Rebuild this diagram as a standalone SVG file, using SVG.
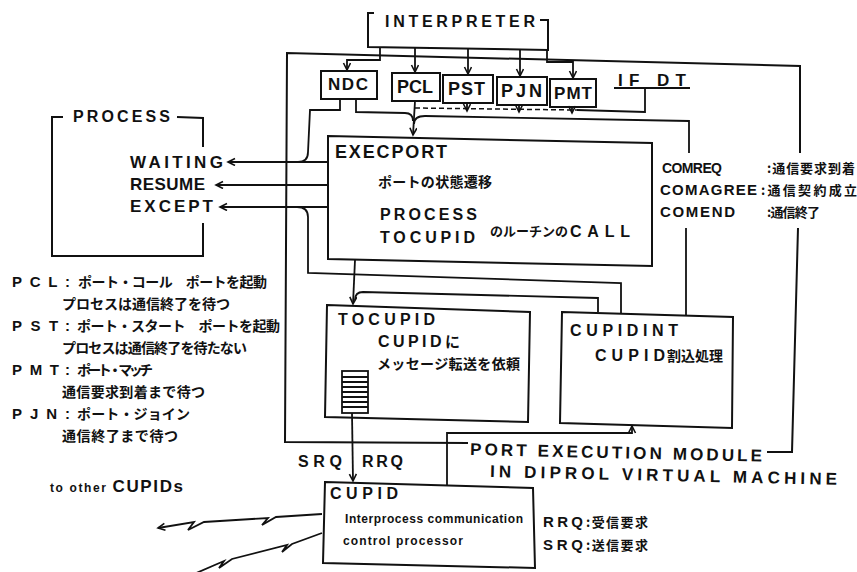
<svg xmlns="http://www.w3.org/2000/svg" width="857" height="572" viewBox="0 0 857 572">
<defs>
<marker id="ah" markerWidth="10" markerHeight="10" refX="8" refY="4" orient="auto" markerUnits="userSpaceOnUse">
<path d="M1,0.5 L8,4 L1,7.5" fill="none" stroke="#111" stroke-width="1.6"/>
</marker>
</defs>
<style>
.b{fill:none;stroke:#111;stroke-width:2}
.l{fill:none;stroke:#111;stroke-width:1.8}
.d{fill:none;stroke:#111;stroke-width:1.5;stroke-dasharray:5 3}
.t{font-family:"Liberation Sans","Noto Sans CJK JP",sans-serif;font-weight:bold;fill:#111}
.j{font-family:"Noto Sans CJK JP","Liberation Sans",sans-serif;font-weight:bold;fill:#111}
</style>
<rect width="857" height="572" fill="#fff"/>

<g id="pem">
<polyline class="b" points="468,443 285,442 287,53 800,66 800,153"/>
<polyline class="b" points="798,228 792,452 767,452"/>
<text class="t" x="470" y="455" font-size="17" textLength="292" transform="rotate(1.3 470 455)">PORT EXECUTION MODULE</text>
<text class="t" x="490" y="477" font-size="17" textLength="347" transform="rotate(1.3 490 477)">IN DIPROL VIRTUAL MACHINE</text>
</g>

<g id="interpreter">
<polyline class="b" points="374,13 368,13 368,47 548,50 548,20 540,20"/>
<text class="t" x="385" y="27" font-size="16" textLength="150">INTERPRETER</text>
</g>

<g id="ndc"><rect class="b" x="321" y="71" width="56" height="28"/><text class="t" x="328" y="90" font-size="17" textLength="40">NDC</text></g>
<g id="pcl"><rect class="b" x="392" y="73" width="48" height="28"/><text class="t" x="397" y="93" font-size="18" textLength="36">PCL</text></g>
<g id="pst"><rect class="b" x="443" y="75" width="50" height="28"/><text class="t" x="448" y="95" font-size="18" textLength="37">PST</text></g>
<g id="pjn"><rect class="b" x="497" y="77" width="50" height="28"/><text class="t" x="501" y="97" font-size="18" textLength="41">PJN</text></g>
<g id="pmt"><rect class="b" x="550" y="79" width="46" height="28"/><text class="t" x="554" y="99" font-size="17" textLength="38">PMT</text></g>

<g id="ifdt"><text class="t" x="618" y="86" font-size="17" textLength="68">IF DT</text><line class="l" x1="614" y1="88" x2="690" y2="88"/></g>

<g id="process">
<polyline class="b" points="63,117 52,117 52,256 203,256 203,223"/>
<polyline class="b" points="177,117 203,118 203,147"/>
<text class="t" x="73" y="122" font-size="16" textLength="97">PROCESS</text>
<text class="t" x="130" y="168" font-size="17" textLength="93">WAITING</text>
<text class="t" x="130" y="190" font-size="17" textLength="75">RESUME</text>
<text class="t" x="130" y="212" font-size="17" textLength="83">EXCEPT</text>
</g>

<g id="execport">
<polygon class="b" points="328,136 652,143 652,266 328,259"/>
<text class="t" x="335" y="158" font-size="18" textLength="112">EXECPORT</text>
<text class="j" x="378" y="187" font-size="14" textLength="114">ポートの状態遷移</text>
<text class="t" x="380" y="220" font-size="16" textLength="97">PROCESS</text>
<text class="t" x="380" y="243" font-size="16" textLength="95">TOCUPID</text>
<text class="j" x="490" y="236" font-size="13" textLength="78">のルーチンの</text>
<text class="t" x="570" y="237" font-size="16" textLength="60">CALL</text>
</g>

<g id="comlabels">
<text class="t" x="662" y="173" font-size="14" textLength="60">COMREQ</text>
<text class="j" x="767" y="173" font-size="13" textLength="88">:通信要求到着</text>
<text class="t" x="660" y="195" font-size="15" textLength="97">COMAGREE</text>
<text class="j" x="761" y="195" font-size="13" textLength="96">:通信契約成立</text>
<text class="t" x="660" y="217" font-size="15" textLength="75">COMEND</text>
<text class="j" x="767" y="217" font-size="13" textLength="53">:通信終了</text>
</g>

<g id="tocupid">
<polygon class="b" points="327,305 530,312 528,422 325,417"/>
<text class="t" x="338" y="325" font-size="16" textLength="97">TOCUPID</text>
<text class="t" x="378" y="347" font-size="16" textLength="82">CUPID<tspan font-size="15" font-family="Noto Sans CJK JP, sans-serif">に</tspan></text>
<text class="j" x="377" y="369" font-size="14" textLength="143">メッセージ転送を依頼</text>
<g class="l" stroke-width="1.5">
<rect x="342" y="371" width="26" height="42"/>
<path d="M342,377H368M342,382H368M342,387H368M342,392H368M342,397H368M342,402H368M342,407H368"/>
</g>
</g>

<g id="cupidint">
<polygon class="b" points="562,312 733,317 732,428 560,423"/>
<text class="t" x="570" y="336" font-size="16" textLength="108">CUPIDINT</text>
<text class="t" x="595" y="361" font-size="16" textLength="70">CUPID</text>
<text class="j" x="667" y="361" font-size="14" textLength="56">割込処理</text>
</g>

<g id="cupid">
<polygon class="b" points="325,482 533,488 535,568 323,563"/>
<text class="t" x="330" y="499" font-size="16" textLength="68">CUPID</text>
<text class="t" x="345" y="523" font-size="12" textLength="178">Interprocess communication</text>
<text class="t" x="343" y="545" font-size="12" textLength="120">control processor</text>
</g>

<g id="legend">
<text class="t" x="12" y="287" font-size="15" textLength="58">PCL:</text>
<text class="j" x="78" y="287" font-size="14" textLength="189">ポート・コール　ポートを起動</text>
<text class="j" x="62" y="309" font-size="14" textLength="168">プロセスは通信終了を待つ</text>
<text class="t" x="12" y="331" font-size="15" textLength="58">PST:</text>
<text class="j" x="77" y="331" font-size="14" textLength="203">ポート・スタート　ポートを起動</text>
<text class="j" x="62" y="353" font-size="14" textLength="185">プロセスは通信終了を待たない</text>
<text class="t" x="12" y="375" font-size="15" textLength="58">PMT:</text>
<text class="j" x="77" y="375" font-size="14" textLength="76">ポート・マッチ</text>
<text class="j" x="62" y="397" font-size="14" textLength="143">通信要求到着まで待つ</text>
<text class="t" x="12" y="419" font-size="15" textLength="58">PJN:</text>
<text class="j" x="77" y="419" font-size="14" textLength="113">ポート・ジョイン</text>
<text class="j" x="62" y="441" font-size="14" textLength="116">通信終了まで待つ</text>
<text class="t" x="50" y="492" textLength="133"><tspan font-size="12">to other </tspan><tspan font-size="17">CUPIDs</tspan></text>
<text class="t" x="298" y="467" font-size="16" textLength="44">SRQ</text>
<text class="t" x="362" y="467" font-size="16" textLength="41">RRQ</text>
<text class="t" x="543" y="527" font-size="15" textLength="40">RRQ</text>
<text class="j" x="586" y="527" font-size="13" textLength="62">:受信要求</text>
<text class="t" x="543" y="550" font-size="15" textLength="40">SRQ</text>
<text class="j" x="586" y="550" font-size="13" textLength="62">:送信要求</text>
</g>

<g id="connectors">
<path class="l" marker-end="url(#ah)" d="M380,48V60H347V70"/>
<path class="l" marker-end="url(#ah)" d="M415,48V72"/>
<path class="l" marker-end="url(#ah)" d="M468,49V74"/>
<path class="l" marker-end="url(#ah)" d="M520,50V76"/>
<path class="l" marker-end="url(#ah)" d="M547,50V62H573V78"/>
<path class="l" d="M340,99V110H310L308,152Q308,162 298,162"/>
<path class="l" d="M356,99V112L405,113Q413,113 413,121"/>
<path class="l" marker-end="url(#ah)" d="M415,101L413,135"/>
<path class="d" d="M415,108L577,110"/>
<path class="l" d="M577,110L645,112V88"/>
<path class="l" marker-end="url(#ah)" d="M467,103V111"/>
<path class="l" marker-end="url(#ah)" d="M519,105V112"/>
<path class="l" marker-end="url(#ah)" d="M572,107V113"/>
<path class="l" d="M689,153V121L425,116Q414,116 414,124"/>
<path class="l" d="M686,228V316"/>
<path class="l" marker-end="url(#ah)" d="M328,162H228"/>
<path class="l" marker-end="url(#ah)" d="M328,185H216"/>
<path class="l" marker-end="url(#ah)" d="M328,207H220"/>
<path class="l" d="M297,207Q308,207 308,217V273L621,283V313"/>
<path class="l" marker-end="url(#ah)" d="M355,260L353,304"/>
<path class="l" d="M355,300Q355,292 363,292L598,298V312"/>
<path class="l" marker-end="url(#ah)" d="M352,413L353,481"/>
<path class="l" marker-end="url(#ah)" d="M447,485V433H632V426"/>
<path class="l" marker-end="url(#ah)" d="M322,514L276,517L262,525L268,518L204,522L188,530L194,522L158,528"/>
<path class="l" d="M322,533L292,544L282,552L287,545L232,559L219,568L224,561L194,574"/>
</g>
</svg>
